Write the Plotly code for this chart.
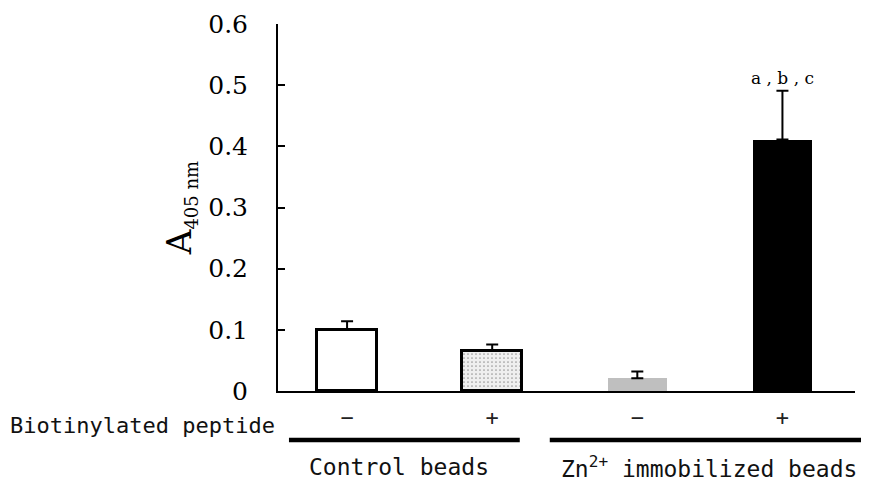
import plotly.graph_objects as go

categories = ["Control −", "Control +", "Zn −", "Zn +"]
peptide_labels = ["−", "+", "−", "+"]
values = [0.100, 0.066, 0.021, 0.411]
errors = [0.014, 0.010, 0.011, 0.080]
y_ticks = [0, 0.1, 0.2, 0.3, 0.4, 0.5, 0.6]
group_labels = ["Control beads", "Zn<sup>2+</sup> immobilized beads"]
significance = "a , b , c"

fill_colors = ["white", "#efefef", "#bfbfbf", "black"]
line_colors = ["black", "black", "#bfbfbf", "black"]
line_widths = [3, 3, 0, 0]
patterns = ["", ".", "", ""]

xpos = list(range(len(categories)))
MONO = "DejaVu Sans Mono"

fig = go.Figure()
fig.add_trace(go.Bar(
    x=xpos, y=values, width=0.41,
    marker=dict(color=fill_colors,
                line=dict(color=line_colors, width=line_widths),
                pattern=dict(shape=patterns, fgcolor="#999999", size=4, solidity=0.15)),
    error_y=dict(type="data", array=errors, arrayminus=[0]*4, symmetric=False,
                 color="black", thickness=2, width=6),
    showlegend=False,
))

fig.add_annotation(x=xpos[3], y=values[3] + errors[3], yshift=13, text=significance,
                   showarrow=False, font=dict(family="DejaVu Serif", size=17, color="black"))

fig.update_layout(
    width=869, height=485,
    margin=dict(l=270, r=22, t=16, b=102),
    paper_bgcolor="white", plot_bgcolor="white",
    bargap=0,
    xaxis=dict(range=[-0.476, 3.5], tickmode="array", tickvals=xpos, ticktext=peptide_labels,
               showline=True, linecolor="black", linewidth=2, ticks="", showgrid=False,
               zeroline=False, automargin=False,
               tickfont=dict(family=MONO, size=22, color="#222222"),
               ticklabelstandoff=6),
    yaxis=dict(range=[0, 0.6], tickmode="array", tickvals=y_ticks,
               ticktext=[("%g" % v) for v in y_ticks],
               showline=True, linecolor="black", linewidth=2, ticks="inside", ticklen=7,
               tickwidth=2, tickcolor="black", showgrid=False, zeroline=False,
               automargin=False,
               tickfont=dict(family="DejaVu Serif", size=25, color="black"),
               ticklabelstandoff=23,
               title=dict(text="A<sub><span style='font-size:18px'>405 nm</span></sub>", standoff=6,
                          font=dict(family="DejaVu Serif", size=34, color="black"))),
)

fig.add_annotation(xref="paper", yref="paper", x=-0.002, y=-0.095, xanchor="right", yanchor="middle",
                   text="Biotinylated peptide", showarrow=False,
                   font=dict(family=MONO, size=22, color="#111111"))

# group underline bars
fig.add_shape(type="line", xref="paper", yref="paper", x0=0.019, x1=0.419, y0=-0.1335, y1=-0.1335,
              line=dict(color="black", width=4.5))
fig.add_shape(type="line", xref="paper", yref="paper", x0=0.471, x1=1.05, y0=-0.1335, y1=-0.1335,
              line=dict(color="black", width=4.5))

fig.add_annotation(xref="paper", yref="paper", x=0.209, y=-0.208, xanchor="center", yanchor="middle",
                   text=group_labels[0], showarrow=False,
                   font=dict(family=MONO, size=23, color="#111111"))
fig.add_annotation(xref="paper", yref="paper", x=0.487, y=-0.208, xanchor="left", yanchor="middle",
                   text=group_labels[1], showarrow=False,
                   font=dict(family=MONO, size=23, color="#111111"))

fig.write_html("out.html")
